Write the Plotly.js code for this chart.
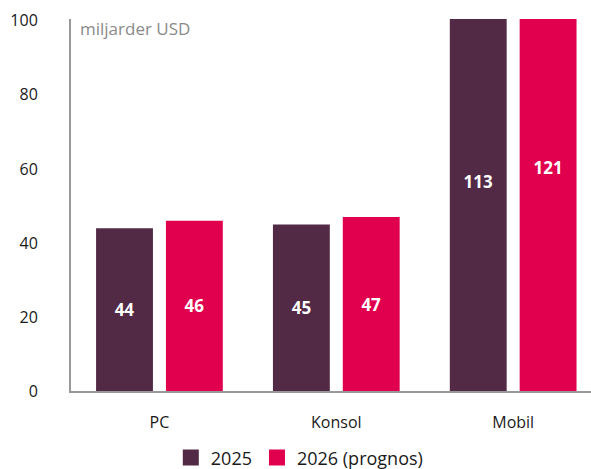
<!DOCTYPE html>
<html><head><meta charset="utf-8">
<script src="https://cdn.plot.ly/plotly-3.0.1.min.js"></script>
<style>html,body{margin:0;padding:0;background:#fff}#chart{width:591px;height:469px}</style>
</head><body><div id="chart"></div>
<script>
const categories = ["PC", "Konsol", "Mobil"];
const values2025 = [44, 45, 113];
const values2026 = [46, 47, 121];
const seriesNames = ["2025", "2026 (prognos)"];
const seriesColors = ["#522a46", "#e0004d"];
const yTicks = [0, 20, 40, 60, 80, 100];

const fontFam = "'Open Sans', Lato, sans-serif";
function barTrace(name, vals, color) {
  return {
    type: "bar", name: name, x: categories, y: vals,
    marker: {color: color}, showlegend: false,
    text: vals.map(String), textposition: "inside", insidetextanchor: "middle",
    textfont: {color: "#ffffff", size: 17, family: fontFam, weight: "bold"},
    cliponaxis: true, hoverinfo: "skip"
  };
}
function legendTrace(name, color) {
  return {type: "scatter", mode: "markers", name: name, x: [null], y: [null],
          marker: {symbol: "square", size: 19, color: color}, hoverinfo: "skip"};
}
const data = [
  barTrace(seriesNames[0], values2025, seriesColors[0]),
  barTrace(seriesNames[1], values2026, seriesColors[1]),
  legendTrace(seriesNames[0], seriesColors[0]),
  legendTrace(seriesNames[1], seriesColors[1])
];
const layout = {
  width: 591, height: 469,
  margin: {l: 71, r: 0, t: 19, b: 78, autoexpand: false},
  paper_bgcolor: "#fff", plot_bgcolor: "#fff",
  font: {family: fontFam, size: 16, color: "#1a1a1a"},
  barmode: "group", bargap: 0.21, bargroupgap: 0.186,
  showlegend: true,
  legend: {orientation: "h", x: 0.44, xanchor: "center", y: -0.13, yanchor: "top",
           font: {size: 18}, itemwidth: 30, traceorder: "normal"},
  xaxis: {type: "category", range: [-0.5, 2.44], showgrid: false, zeroline: false,
          showline: true, linecolor: "#999", linewidth: 2, ticks: "", ticklabelstandoff: 16,
          tickfont: {size: 16}},
  yaxis: {range: [0, 100.5], tickvals: yTicks, showgrid: false, zeroline: false,
          showline: true, linecolor: "#999", linewidth: 2, ticks: "", ticklabelstandoff: 28,
          tickfont: {size: 16}},
  annotations: [{text: "miljarder USD", xref: "paper", yref: "paper", x: 0.014, y: 1.012,
                 xanchor: "left", yanchor: "top", showarrow: false,
                 font: {size: 17, color: "#8a8a8a"}}]
};
Plotly.newPlot("chart", data, layout, {staticPlot: true});
</script></body></html>
